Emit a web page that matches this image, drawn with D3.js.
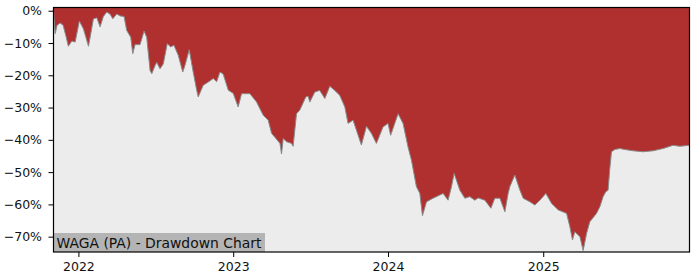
<!DOCTYPE html>
<html>
<head>
<meta charset="utf-8">
<script src="https://cdn.jsdelivr.net/npm/d3@7"></script>
<style>
  html, body { margin: 0; padding: 0; background: #ffffff; }
  svg { display: block; font-family: "DejaVu Sans", sans-serif; }
</style>
</head>
<body>
<svg id="chart" width="700" height="280"></svg>
<script>
// ---- data ----
const title = "WAGA (PA) - Drawdown Chart";
// time as decimal years
const years = [
  2021.839, 2021.850, 2021.862, 2021.882, 2021.901, 2021.920, 2021.935, 2021.957, 2021.979,
  2022.006, 2022.032, 2022.050, 2022.065, 2022.097, 2022.119, 2022.140, 2022.161, 2022.183,
  2022.205, 2022.222, 2022.248, 2022.269, 2022.295, 2022.312, 2022.338, 2022.351, 2022.366,
  2022.398, 2022.424, 2022.441, 2022.463, 2022.474, 2022.495, 2022.506, 2022.527, 2022.548,
  2022.574, 2022.596, 2022.617, 2022.645, 2022.674, 2022.688, 2022.716, 2022.738, 2022.764,
  2022.774, 2022.806, 2022.839, 2022.871, 2022.893, 2022.914, 2022.935, 2022.968, 2023.000,
  2023.032, 2023.054, 2023.108, 2023.151, 2023.194, 2023.226, 2023.248, 2023.276, 2023.302,
  2023.312, 2023.323, 2023.345, 2023.377, 2023.387, 2023.409, 2023.430, 2023.469, 2023.484,
  2023.495, 2023.527, 2023.559, 2023.592, 2023.624, 2023.656, 2023.688, 2023.721, 2023.742,
  2023.774, 2023.796, 2023.828, 2023.861, 2023.893, 2023.925, 2023.968, 2024.000, 2024.017,
  2024.065, 2024.097, 2024.129, 2024.151, 2024.183, 2024.205, 2024.222, 2024.248, 2024.290,
  2024.334, 2024.355, 2024.387, 2024.409, 2024.426, 2024.463, 2024.495, 2024.527, 2024.559,
  2024.581, 2024.624, 2024.663, 2024.688, 2024.721, 2024.753, 2024.774, 2024.785, 2024.817,
  2024.850, 2024.871, 2024.914, 2024.946, 2024.979, 2025.017, 2025.054, 2025.097, 2025.151,
  2025.172, 2025.189, 2025.204, 2025.237, 2025.258, 2025.280, 2025.301, 2025.344, 2025.366,
  2025.387, 2025.404, 2025.419, 2025.430, 2025.441, 2025.462, 2025.495, 2025.527, 2025.581,
  2025.645, 2025.710, 2025.774, 2025.839, 2025.882, 2025.945
];
// drawdown in percent
const drawdown = [
  0.0, -7.1, -4.5, -3.8, -4.5, -8.0, -11.0, -9.4, -9.7,
  -3.2, -5.6, -8.5, -11.0, -2.5, -2.2, -5.0, -1.8, -0.4,
  -1.1, -2.5, -1.0, -1.6, -1.8, -6.1, -8.2, -13.3, -10.5,
  -10.5, -6.3, -8.2, -18.5, -19.5, -17.0, -16.0, -18.0, -16.5,
  -10.2, -11.2, -10.7, -13.8, -19.0, -17.0, -12.1, -18.1, -24.6,
  -26.7, -23.1, -22.1, -21.0, -22.0, -19.0, -19.6, -24.6, -25.6,
  -29.8, -25.7, -25.7, -28.3, -32.4, -33.9, -38.0, -39.6, -41.1,
  -44.4, -39.6, -40.6, -41.1, -42.0, -31.9, -30.8, -26.7, -26.5,
  -28.3, -25.2, -24.7, -27.2, -23.4, -24.7, -26.2, -29.8, -34.9,
  -33.9, -37.0, -41.6, -35.8, -38.0, -41.1, -36.0, -34.9, -38.6,
  -31.9, -34.9, -42.2, -46.3, -54.5, -56.6, -63.5, -59.2, -58.1,
  -57.1, -56.6, -58.7, -54.5, -50.4, -55.6, -58.1, -57.6, -58.7,
  -58.0, -58.7, -61.2, -58.1, -58.1, -62.3, -56.6, -54.5, -50.9,
  -55.6, -58.1, -59.2, -60.2, -58.7, -56.6, -59.7, -61.7, -62.8,
  -66.9, -71.0, -68.5, -70.0, -74.3, -69.0, -65.4, -62.8, -60.7,
  -57.6, -56.1, -55.6, -49.0, -43.7, -43.0, -42.7, -43.0, -43.4,
  -43.7, -43.4, -42.7, -41.7, -42.0, -41.7
];
const yTicks = [0, -10, -20, -30, -40, -50, -60, -70];
const xTickYears = [2022, 2023, 2024, 2025];

(function () {
// ---- helpers ----
function yearToDate(yv) {
  const Y = Math.floor(yv);
  const start = new Date(Y, 0, 1).getTime();
  const end = new Date(Y + 1, 0, 1).getTime();
  return new Date(start + (yv - Y) * (end - start));
}
const data = years.map((yv, i) => ({ date: yearToDate(yv), v: drawdown[i] }));

// ---- layout ----
const pl = 53.5, pr = 689.5, pt = 7.5, pb = 252;
const svg = d3.select("#chart");

const x = d3.scaleTime()
  .domain([yearToDate(2021.839), yearToDate(2025.945)])
  .range([pl, pr]);
const y = d3.scaleLinear()
  .domain([-74.75, 1.0])
  .range([pb, pt]);

// plot background
svg.append("rect")
  .attr("x", pl).attr("y", pt)
  .attr("width", pr - pl).attr("height", pb - pt)
  .attr("fill", "#ececec");

// red drawdown area (from top of plot down to the curve)
const area = d3.area()
  .x(d => x(d.date))
  .y0(pt)
  .y1(d => y(d.v));
svg.append("path")
  .datum(data)
  .attr("d", area)
  .attr("fill", "#b03030");

// curve edge
const line = d3.line()
  .x(d => x(d.date))
  .y(d => y(d.v));
svg.append("path")
  .datum(data)
  .attr("d", line)
  .attr("fill", "none")
  .attr("stroke", "#8a8a8a")
  .attr("stroke-width", 1);

// title box
const tg = svg.append("g");
const tText = tg.append("text")
  .attr("x", pl + 3)
  .attr("y", 247.5)
  .attr("font-size", "13.9px")
  .attr("fill", "#111")
  .text(title);
const bb = tText.node().getBBox();
tg.insert("rect", "text")
  .attr("x", pl)
  .attr("y", 233)
  .attr("width", bb.width + 6)
  .attr("height", pb - 233)
  .attr("fill", "#b4b4b4");

// frame
svg.append("rect")
  .attr("x", pl).attr("y", pt)
  .attr("width", pr - pl).attr("height", pb - pt)
  .attr("fill", "none")
  .attr("stroke", "#000")
  .attr("stroke-width", 1.2);

// axes
const fmt = d => (d < 0 ? "\u2212" : "") + Math.abs(d) + "%";
const yAxis = d3.axisLeft(y)
  .tickValues(yTicks)
  .tickFormat(fmt)
  .tickSize(5)
  .tickPadding(6.5);
const gy = svg.append("g")
  .attr("transform", `translate(${pl},0)`)
  .call(yAxis);
gy.select(".domain").remove();
gy.selectAll("text").attr("font-size", "12.5px").attr("fill", "#111")
  .attr("font-family", "DejaVu Sans");
gy.selectAll("line").attr("stroke", "#000");

const xAxis = d3.axisBottom(x)
  .tickValues(xTickYears.map(yr => new Date(yr, 0, 1)))
  .tickFormat(d3.timeFormat("%Y"))
  .tickSize(5)
  .tickPadding(5.5);
const gx = svg.append("g")
  .attr("transform", `translate(0,${pb})`)
  .call(xAxis);
gx.select(".domain").remove();
gx.selectAll("text").attr("font-size", "12.5px").attr("fill", "#111")
  .attr("font-family", "DejaVu Sans");
gx.selectAll("line").attr("stroke", "#000");
})();
</script>
</body>
</html>
